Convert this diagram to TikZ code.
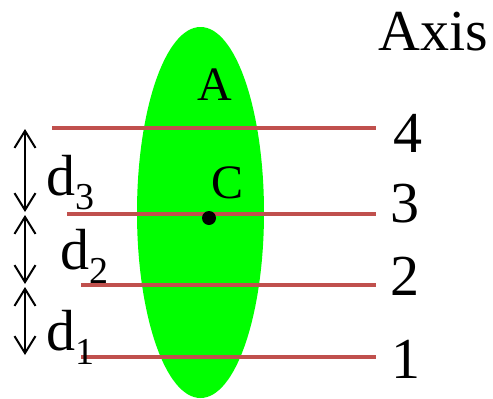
\documentclass[tikz,border=0pt]{standalone}
\usepackage{fontspec}
\setmainfont{Liberation Serif}
\usetikzlibrary{arrows.meta,shapes.geometric}
\definecolor{axisred}{HTML}{C0504D}
\definecolor{bodygreen}{HTML}{00FF00}
\newcommand\mysubscr[1]{\raisebox{-14pt}{\fontsize{38}{38}\selectfont #1}}
\begin{document}
\begin{tikzpicture}[x=1pt,y=-1pt,
  axisline/.style={draw=axisred,line width=3.5pt},
  dimarrow/.style={draw=black,line width=2pt,{Straight Barb[length=17pt,width=21pt]}-{Straight Barb[length=17pt,width=21pt]}},
  bigtext/.style={inner sep=0pt,font=\fontsize{58}{58}\selectfont},
  midtext/.style={inner sep=0pt,font=\fontsize{48}{48}\selectfont}]
\useasboundingbox (0,0) rectangle (493,399);
\node[ellipse,fill=bodygreen,inner sep=0pt,minimum width=127pt,minimum height=371pt] (body) at (200.5,212.5) {};
% axis lines
\coordinate (l4s) at (52,128); \coordinate (l4e) at (376,128);
\coordinate (l3s) at (67,214); \coordinate (l3e) at (376,214);
\coordinate (l2s) at (81,285); \coordinate (l2e) at (376,285);
\coordinate (l1s) at (81,357); \coordinate (l1e) at (376,357);
\draw[axisline] (l4s) -- (l4e);
\draw[axisline] (l3s) -- (l3e);
\draw[axisline] (l2s) -- (l2e);
\draw[axisline] (l1s) -- (l1e);
% centroid
\fill[black] (209,218) circle[radius=7pt];
\node[midtext,anchor=base] (labA) at (215,100) {A};
\node[midtext,anchor=base] (labC) at (228,198) {C};
% dimension arrows
\coordinate (t3a) at (25,129); \coordinate (t3b) at (25,212);
\coordinate (t2a) at (25,215); \coordinate (t2b) at (25,284);
\coordinate (t1a) at (25,287); \coordinate (t1b) at (25,355);
\draw[dimarrow] (t3a) -- (t3b);
\draw[dimarrow] (t2a) -- (t2b);
\draw[dimarrow] (t1a) -- (t1b);
\node[bigtext,anchor=base west] (d3) at (46,195) {d\mysubscr{3}};
\node[bigtext,anchor=base west] (d2) at (60,269) {d\mysubscr{2}};
\node[bigtext,anchor=base west] (d1) at (46,350) {d\mysubscr{1}};
% axis labels
\node[bigtext,anchor=base west] (axis) at (378,50) {Axis};
\node[bigtext,anchor=base] (n4) at (408,152) {4};
\node[bigtext,anchor=base] (n3) at (405,222) {3};
\node[bigtext,anchor=base] (n2) at (405,295) {2};
\node[bigtext,anchor=base] (n1) at (406,378) {1};
\end{tikzpicture}
\end{document}
